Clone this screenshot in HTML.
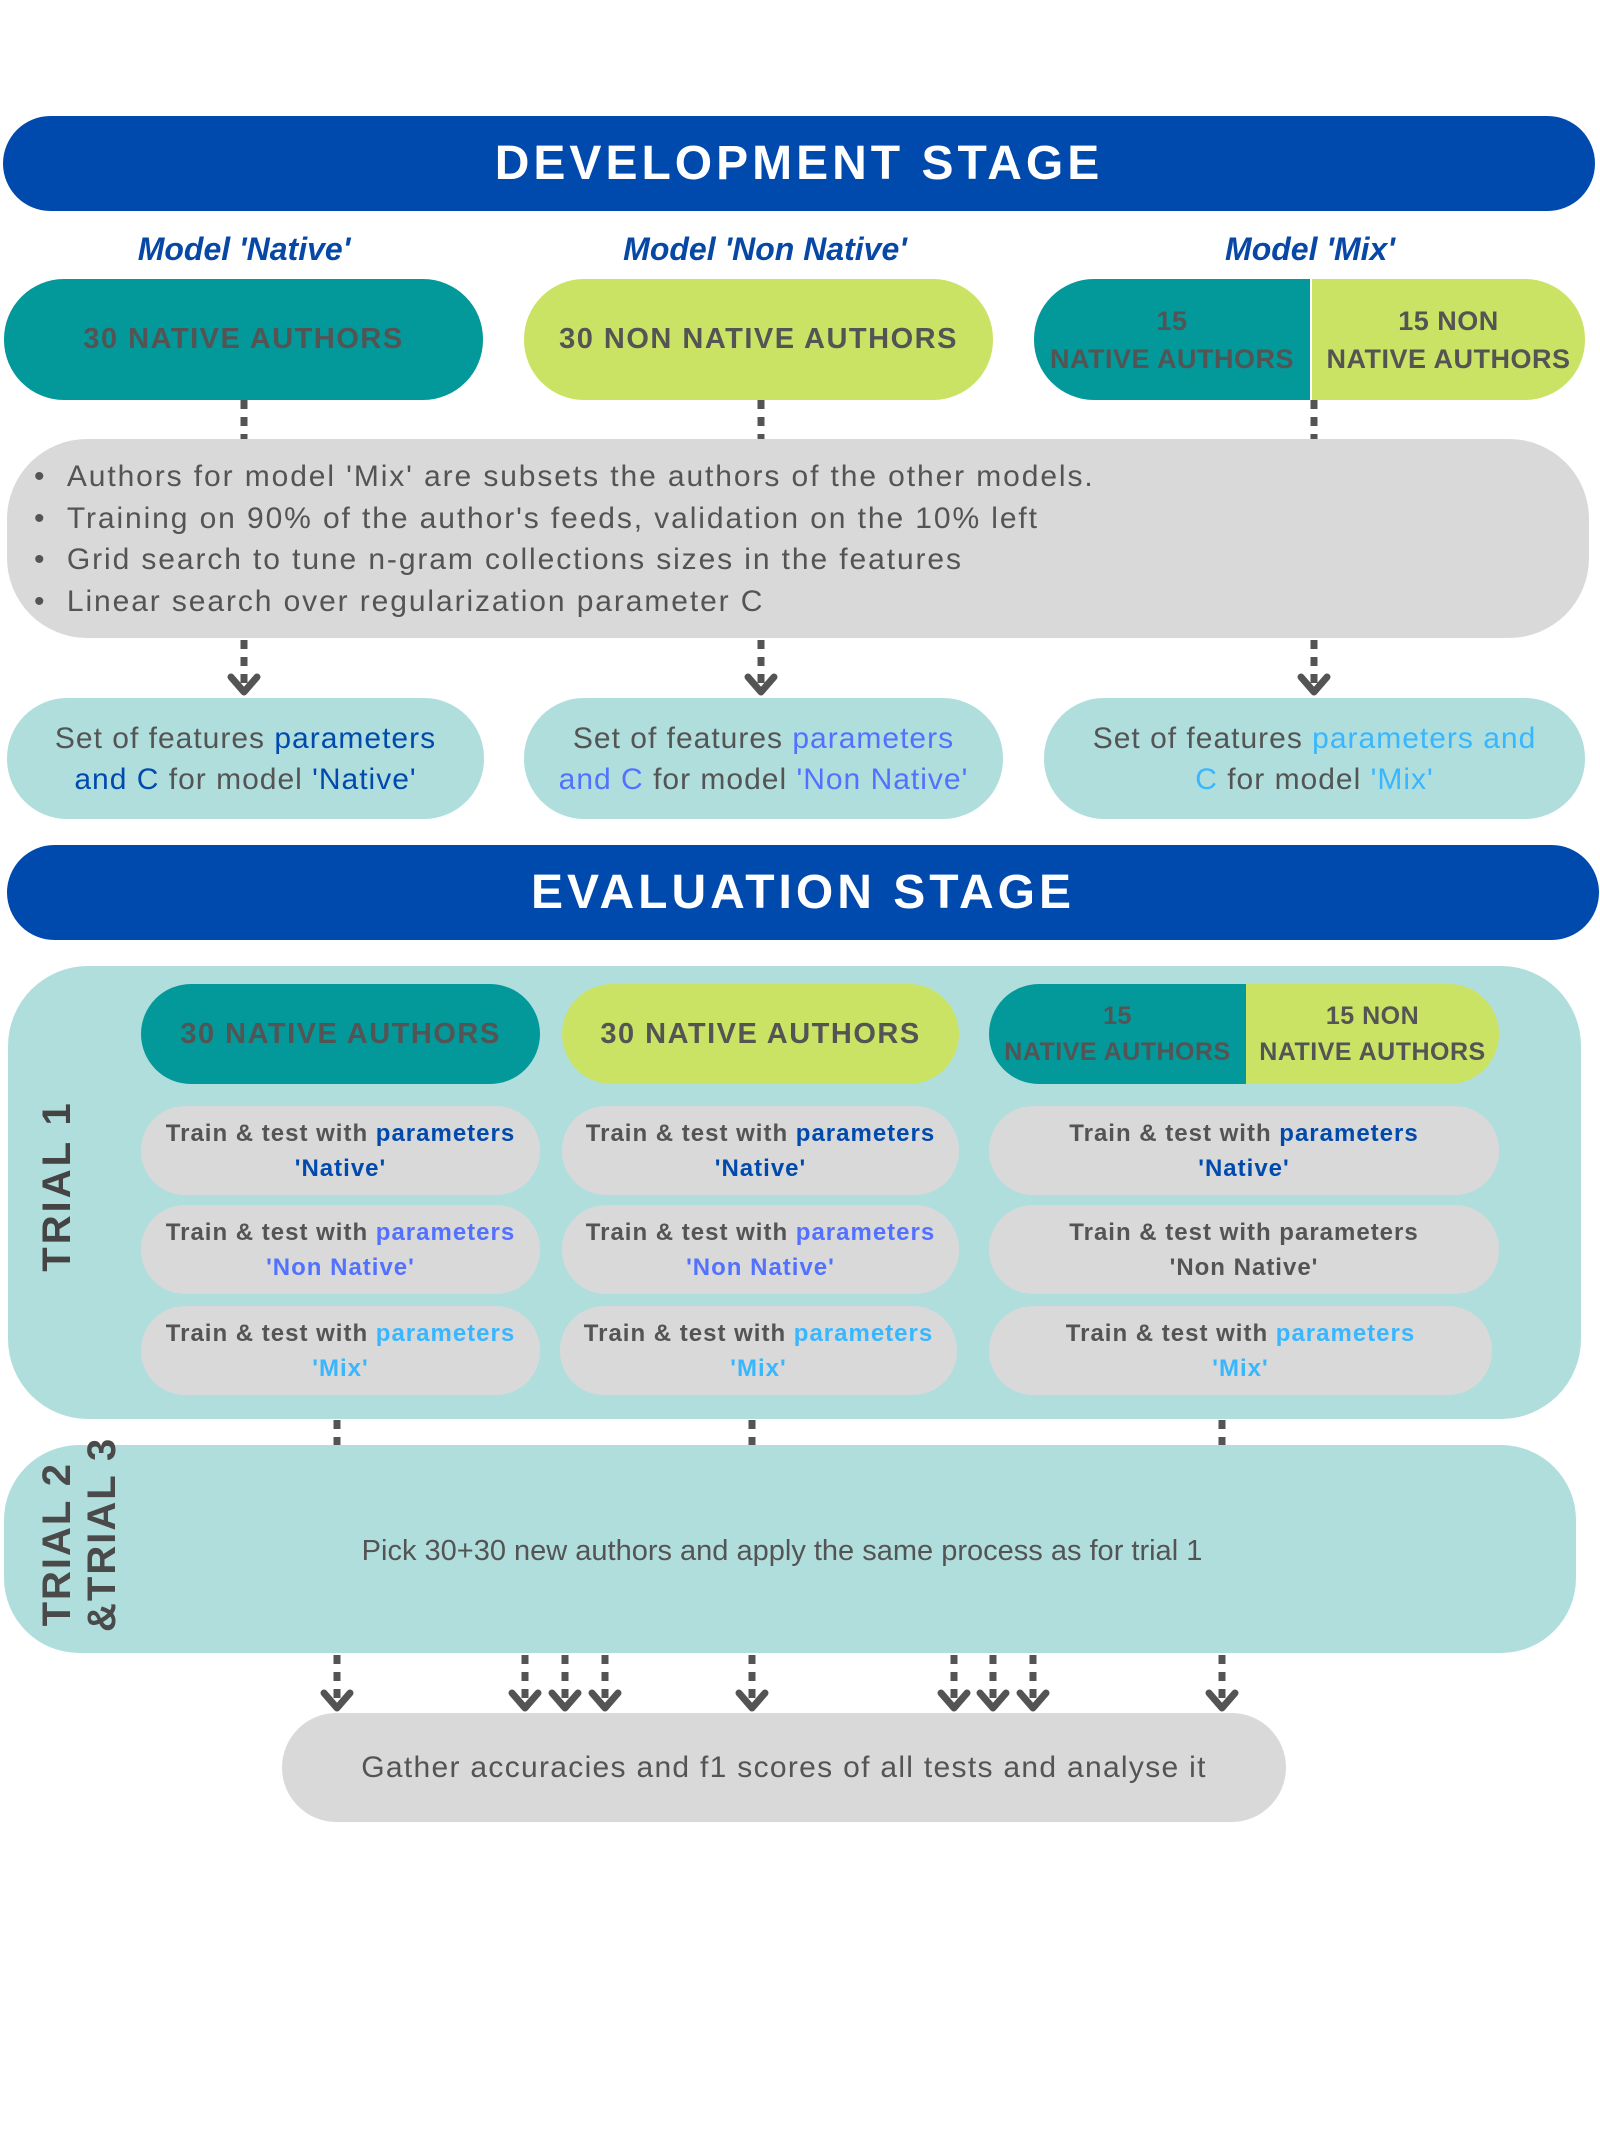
<!DOCTYPE html>
<html><head><meta charset="utf-8"><style>
*{margin:0;padding:0;box-sizing:border-box}
body{width:1600px;height:2134px;background:#fff;position:relative;overflow:hidden;font-family:"Liberation Sans",sans-serif;color:#545454}
.a{position:absolute;display:flex;align-items:center;justify-content:center;text-align:center}
.ban{background:#004aad;color:#fff;font-weight:bold;font-size:48px;letter-spacing:4px;border-radius:50px}
.lab{color:#0747a6;font-style:italic;font-weight:bold;font-size:32px}
.teal{background:#03989a}.lime{background:#cbe365}.gray{background:#d9d9d9}.aq{background:#b0dedd}
.au{font-weight:bold;font-size:29px;letter-spacing:1.5px;color:#545454}
.fs{font-size:30px;letter-spacing:1px;line-height:41px;border-radius:60px}
.tr{font-weight:bold;font-size:24px;letter-spacing:1px;line-height:35px;border-radius:44px}
.b1{color:#004aad}.b2{color:#5271ff}.b3{color:#38b6ff}
</style></head><body>
<div class="a ban" style="left:3px;top:116px;width:1592px;height:95px">DEVELOPMENT STAGE</div>
<div class="a lab" style="left:44px;top:228px;width:400px;height:42px">Model 'Native'</div>
<div class="a lab" style="left:565px;top:228px;width:400px;height:42px">Model 'Non Native'</div>
<div class="a lab" style="left:1110px;top:228px;width:400px;height:42px">Model 'Mix'</div>
<div class="a teal au" style="left:4px;top:279px;width:479px;height:121px;border-radius:60px">30 NATIVE AUTHORS</div>
<div class="a lime au" style="left:524px;top:279px;width:469px;height:121px;border-radius:60px">30 NON NATIVE AUTHORS</div>
<div class="a teal au" style="left:1034px;top:279px;width:276px;height:121px;border-radius:60px 0 0 60px;line-height:38px;font-size:27px;letter-spacing:0.5px"><div>15<br>NATIVE AUTHORS</div></div>
<div class="a lime au" style="left:1310px;top:279px;width:275px;height:121px;border-radius:0 60px 60px 0;line-height:38px;font-size:27px;letter-spacing:0.5px;border-left:2px solid #fff"><div>15 NON<br>NATIVE AUTHORS</div></div>
<div class="gray" style="position:absolute;left:7px;top:439px;width:1582px;height:199px;border-radius:80px"></div>
<div style="position:absolute;left:34px;top:456px;font-size:30px;letter-spacing:1.9px;line-height:41.5px;white-space:nowrap">
<div>•&nbsp;&nbsp;Authors for model 'Mix' are subsets the authors of the other models.</div>
<div>•&nbsp;&nbsp;Training on 90% of the author's feeds, validation on the 10% left</div>
<div>•&nbsp;&nbsp;Grid search to tune n-gram collections sizes in the features</div>
<div>•&nbsp;&nbsp;Linear search over regularization parameter C</div></div>
<div class="a aq fs" style="left:7px;top:698px;width:477px;height:121px"><div>Set of features <span class="b1">parameters</span><br><span class="b1">and C</span> for model <span class="b1">'Native'</span></div></div>
<div class="a aq fs" style="left:524px;top:698px;width:479px;height:121px"><div>Set of features <span class="b2">parameters</span><br><span class="b2">and C</span> for model <span class="b2">'Non Native'</span></div></div>
<div class="a aq fs" style="left:1044px;top:698px;width:541px;height:121px"><div>Set of features <span class="b3">parameters and</span><br><span class="b3">C</span> for model <span class="b3">'Mix'</span></div></div>
<div class="a ban" style="left:7px;top:845px;width:1592px;height:95px">EVALUATION STAGE</div>
<div class="aq" style="position:absolute;left:8px;top:966px;width:1573px;height:453px;border-radius:80px"></div>
<div class="a" style="left:-43px;top:1164px;width:200px;height:44px;transform:rotate(-90deg);font-weight:bold;font-size:40px;letter-spacing:3px;color:#444">TRIAL 1</div>
<div class="a teal au" style="left:141px;top:984px;width:399px;height:100px;border-radius:50px">30 NATIVE AUTHORS</div>
<div class="a lime au" style="left:562px;top:984px;width:397px;height:100px;border-radius:50px">30 NATIVE AUTHORS</div>
<div class="a teal au" style="left:989px;top:984px;width:257px;height:100px;border-radius:50px 0 0 50px;line-height:36px;font-size:25px;letter-spacing:0.5px"><div>15<br>NATIVE AUTHORS</div></div>
<div class="a lime au" style="left:1246px;top:984px;width:253px;height:100px;border-radius:0 50px 50px 0;line-height:36px;font-size:25px;letter-spacing:0.5px"><div>15 NON<br>NATIVE AUTHORS</div></div>

<div class="a gray tr" style="left:141px;top:1106px;width:399px;height:89px"><div>Train &amp; test with <span class="b1">parameters</span><br><span class="b1">'Native'</span></div></div>
<div class="a gray tr" style="left:562px;top:1106px;width:397px;height:89px"><div>Train &amp; test with <span class="b1">parameters</span><br><span class="b1">'Native'</span></div></div>
<div class="a gray tr" style="left:989px;top:1106px;width:510px;height:89px"><div>Train &amp; test with <span class="b1">parameters</span><br><span class="b1">'Native'</span></div></div>
<div class="a gray tr" style="left:141px;top:1205px;width:399px;height:89px"><div>Train &amp; test with <span class="b2">parameters</span><br><span class="b2">'Non Native'</span></div></div>
<div class="a gray tr" style="left:562px;top:1205px;width:397px;height:89px"><div>Train &amp; test with <span class="b2">parameters</span><br><span class="b2">'Non Native'</span></div></div>
<div class="a gray tr" style="left:989px;top:1205px;width:510px;height:89px"><div>Train &amp; test with parameters<br>'Non Native'</div></div>
<div class="a gray tr" style="left:141px;top:1306px;width:399px;height:89px"><div>Train &amp; test with <span class="b3">parameters</span><br><span class="b3">'Mix'</span></div></div>
<div class="a gray tr" style="left:560px;top:1306px;width:397px;height:89px"><div>Train &amp; test with <span class="b3">parameters</span><br><span class="b3">'Mix'</span></div></div>
<div class="a gray tr" style="left:989px;top:1306px;width:503px;height:89px"><div>Train &amp; test with <span class="b3">parameters</span><br><span class="b3">'Mix'</span></div></div>

<div class="aq" style="position:absolute;left:4px;top:1445px;width:1572px;height:208px;border-radius:75px"></div>
<div style="position:absolute;left:-5px;top:1502px;width:170px;height:90px;transform:rotate(-90deg);font-weight:bold;font-size:40px;letter-spacing:2px;line-height:45px;color:#4a4a4a;text-align:right;white-space:nowrap">TRIAL 2<br>&amp;TRIAL 3</div>
<div class="a" style="left:200px;top:1528px;width:1164px;height:46px;font-size:29px">Pick 30+30 new authors and apply the same process as for trial 1</div>
<div class="a gray" style="left:282px;top:1713px;width:1004px;height:109px;border-radius:55px;font-size:30px;letter-spacing:1.3px">Gather accuracies and f1 scores of all tests and analyse it</div>

<svg style="position:absolute;left:0;top:0" width="1600" height="2134">
<g stroke="#545454" stroke-width="7" fill="none" stroke-dasharray="9 8">
<line x1="244" y1="400" x2="244" y2="439"/><line x1="761" y1="400" x2="761" y2="439"/><line x1="1314" y1="400" x2="1314" y2="439"/>
<line x1="244" y1="640" x2="244" y2="690"/><line x1="761" y1="640" x2="761" y2="690"/><line x1="1314" y1="640" x2="1314" y2="690"/>
<line x1="337" y1="1420" x2="337" y2="1445"/><line x1="752" y1="1420" x2="752" y2="1445"/><line x1="1222" y1="1420" x2="1222" y2="1445"/>
<line x1="337" y1="1655" x2="337" y2="1706"/><line x1="525" y1="1655" x2="525" y2="1706"/><line x1="565" y1="1655" x2="565" y2="1706"/><line x1="605" y1="1655" x2="605" y2="1706"/><line x1="752" y1="1655" x2="752" y2="1706"/><line x1="954" y1="1655" x2="954" y2="1706"/><line x1="993" y1="1655" x2="993" y2="1706"/><line x1="1033" y1="1655" x2="1033" y2="1706"/><line x1="1222" y1="1655" x2="1222" y2="1706"/>
</g>
<g stroke="#545454" stroke-width="7" fill="none" stroke-linecap="round" stroke-linejoin="round">
<path d="M231 677 L244 692 L257 677"/><path d="M748 677 L761 692 L774 677"/><path d="M1301 677 L1314 692 L1327 677"/>
<path d="M324 1693 L337 1708 L350 1693"/><path d="M512 1693 L525 1708 L538 1693"/><path d="M552 1693 L565 1708 L578 1693"/><path d="M592 1693 L605 1708 L618 1693"/><path d="M739 1693 L752 1708 L765 1693"/><path d="M941 1693 L954 1708 L967 1693"/><path d="M980 1693 L993 1708 L1006 1693"/><path d="M1020 1693 L1033 1708 L1046 1693"/><path d="M1209 1693 L1222 1708 L1235 1693"/>
</g></svg>
</body></html>
